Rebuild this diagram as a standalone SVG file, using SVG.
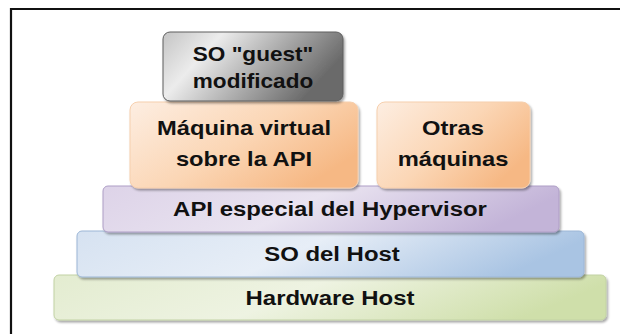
<svg xmlns="http://www.w3.org/2000/svg" width="620" height="334" viewBox="0 0 620 334">
<defs>
<filter id="sh" x="-10%" y="-20%" width="125%" height="150%">
<feDropShadow dx="1.5" dy="2" stdDeviation="1.2" flood-color="#000" flood-opacity="0.35"/>
</filter>
<linearGradient id="gGray" x1="0" y1="0" x2="1" y2="0.35">
<stop offset="0" stop-color="#c4c4c4"/>
<stop offset="0.3" stop-color="#ececec"/>
<stop offset="0.6" stop-color="#b4b4b4"/>
<stop offset="1" stop-color="#6a6a6a"/>
</linearGradient>
<linearGradient id="gOr" x1="0" y1="0" x2="1" y2="0.6">
<stop offset="0" stop-color="#fdeee2"/>
<stop offset="0.55" stop-color="#fbd6b5"/>
<stop offset="1" stop-color="#f6b884"/>
</linearGradient>
<linearGradient id="gLav" x1="0" y1="0" x2="1" y2="0.2">
<stop offset="0" stop-color="#ddd3e8"/>
<stop offset="0.5" stop-color="#e9e3f0"/>
<stop offset="1" stop-color="#c3b4d8"/>
</linearGradient>
<linearGradient id="gBlu" x1="0" y1="0" x2="1" y2="0.2">
<stop offset="0" stop-color="#d6e2f1"/>
<stop offset="0.5" stop-color="#e7eef7"/>
<stop offset="1" stop-color="#a9c4e3"/>
</linearGradient>
<linearGradient id="gGrn" x1="0" y1="0" x2="1" y2="0.2">
<stop offset="0" stop-color="#e3ecd0"/>
<stop offset="0.5" stop-color="#eef3e2"/>
<stop offset="1" stop-color="#cfdfaa"/>
</linearGradient>
</defs>
<style>
.t{font-family:"Liberation Sans",Arial,sans-serif;font-weight:bold;font-size:21px;fill:#111;text-anchor:middle}
.s{font-size:20px}
.b{stroke-width:1}
</style>
<rect width="620" height="334" fill="#ffffff"/>
<path d="M11 334 V9 H620" fill="none" stroke="#111" stroke-width="2.2"/>

<g id="hardware">
<rect x="54" y="275" width="552" height="45" rx="5" fill="url(#gGrn)" stroke="#c2d2a4" class="b" filter="url(#sh)"/>
<text class="t" transform="translate(330 305) scale(1.14 1)">Hardware Host</text>
</g>
<g id="so-host">
<rect x="77" y="231" width="507" height="46" rx="5" fill="url(#gBlu)" stroke="#9cb6d6" class="b" filter="url(#sh)"/>
<text class="t" transform="translate(332 261) scale(1.14 1)">SO del Host</text>
</g>
<g id="api">
<rect x="103" y="186" width="456" height="46" rx="5" fill="url(#gLav)" stroke="#ae9ec6" class="b" filter="url(#sh)"/>
<text class="t" transform="translate(330 216) scale(1.14 1)">API especial del Hypervisor</text>
</g>
<g id="maquina-virtual">
<rect x="130" y="102" width="228" height="86" rx="8" fill="url(#gOr)" stroke="#f6cfad" class="b" filter="url(#sh)"/>
<text class="t" transform="translate(244 135) scale(1.13 1)">Máquina virtual</text>
<text class="t" transform="translate(244 166) scale(1.13 1)">sobre la API</text>
</g>
<g id="otras-maquinas">
<rect x="377" y="102" width="153" height="86" rx="8" fill="url(#gOr)" stroke="#f6cfad" class="b" filter="url(#sh)"/>
<text class="t" transform="translate(453 135) scale(1.13 1)">Otras</text>
<text class="t" transform="translate(453 166) scale(1.13 1)">máquinas</text>
</g>
<g id="so-guest">
<rect x="163" y="32" width="180" height="69" rx="7" fill="url(#gGray)" stroke="#5e5e5e" class="b" filter="url(#sh)"/>
<text class="t s" transform="translate(253 61) scale(1.13 1)">SO "guest"</text>
<text class="t s" transform="translate(253 88) scale(1.13 1)">modificado</text>
</g>
<g id="connectors"/>
</svg>
